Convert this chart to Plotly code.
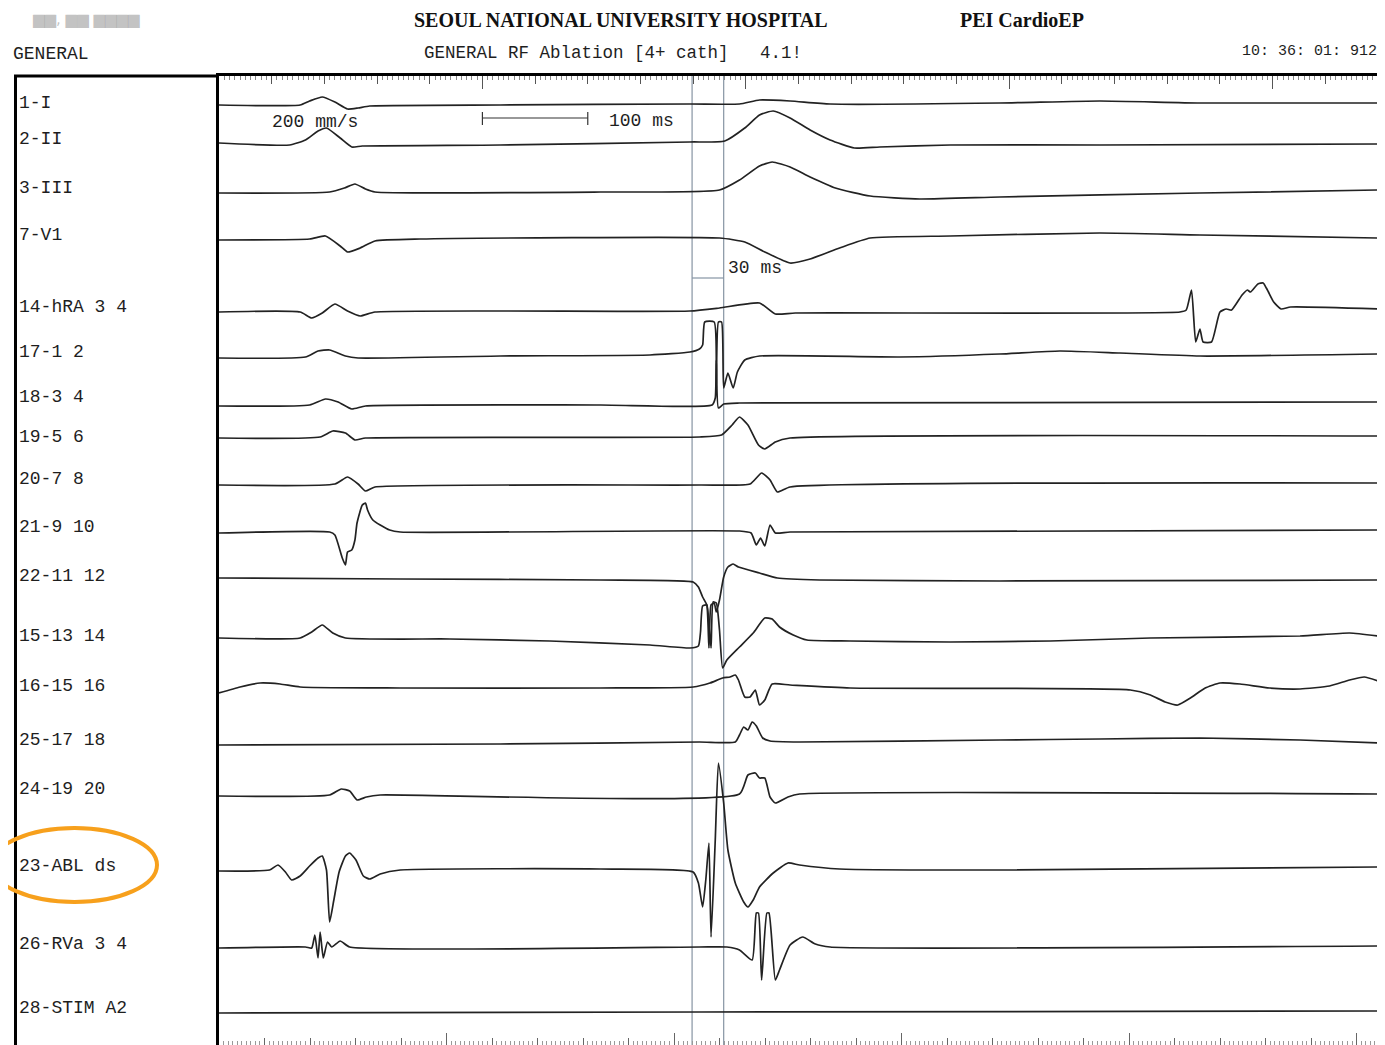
import plotly.graph_objects as go

# ---------------- canvas / layout constants ----------------
PAGE_OFF = 8                  # browser default body margin
W, H = 1385 - PAGE_OFF, 1045 - PAGE_OFF
ML, MR, MT, MB = 219 - PAGE_OFF, 7, 76 - PAGE_OFF, 0
PW = W - ML - MR
PH = H - MT - MB
T_MAX = 1100          # ms shown across the sweep
RULER_UNITS = 25.47   # units on the lower ruler

# ---------------- data (time in ms, amplitude in display units) ----------------
CHANNELS = ["1-I", "2-II", "3-III", "7-V1", "14-hRA 3 4", "17-1 2", "18-3 4",
            "19-5 6", "20-7 8", "21-9 10", "22-11 12", "15-13 14", "16-15 16",
            "25-17 18", "24-19 20", "23-ABL ds", "26-RVa 3 4", "28-STIM A2"]

I_t = [0, 77, 86, 98, 110, 122, 132, 143, 267, 447, 494, 513, 542, 580, 741, 836, 931, 1100]
I_a = [0, 0, 4, 8, 3, -4, -3, -1, 0, 1, 1, 5, 4, 1, 2, 4, 2, 2]

II_t = [0, 67, 82, 94, 102, 115, 126, 136, 267, 447, 480, 499, 513, 526, 542, 561, 580, 603, 627, 694, 836, 1100]
II_a = [2, 0, 5, 14, 17, 7, -2, -1, 0, 3, 4, 17, 30, 34, 27, 15, 5, -3, -2, 0, 0, 1]

III_t = [0, 105, 119, 129, 139, 148, 362, 475, 494, 513, 525, 542, 561, 585, 618, 665, 741, 931, 1100]
III_a = [-1, 0, 4, 8, 3, 0, 0, 2, 12, 26, 30, 25, 15, 4, -4, -7, -5, -1, 2]

V1_t = [0, 86, 101, 115, 122, 134, 148, 191, 475, 499, 518, 542, 561, 589, 618, 694, 836, 931, 1100]
V1_a = [0, 1, 4, -6, -12, -8, -1, 1, 2, -2, -12, -23, -19, -8, 2, 4, 7, 5, 2]

HRA_t = [0, 77, 88, 98, 110, 122, 134, 148, 447, 475, 513, 528, 547, 912, 918, 923, 927, 931,
         934, 942, 950, 956, 961, 971, 976, 979, 986, 991, 994, 996, 1001, 1008, 1017, 1100]
HRA_a = [-1, -1, -7, -2, 7, 0, -5, -1, 0, 3, 8, -3, -2, -1, 1, 21, -31, -18,
         -31, -31, -1, 2, 1, 16, 21, 19, 27, 28, 23, 19, 9, 2, 4, 2]

CS12_t = [0, 82, 94, 105, 120, 132, 267, 409, 447, 456, 459, 461, 470, 472, 474, 477, 479,
          483, 488, 492, 499, 513, 646, 741, 798, 855, 931, 1100]
CS12_a = [-1, 0, 6, 7, 1, -1, 1, 2, 5, 8, 12, 35, 35, -31, 35, 35, -31,
          -16, -31, -15, -3, 1, 0, 3, 6, 4, 1, 3]

CS34_t = [0, 86, 101, 113, 126, 139, 362, 468, 471, 472, 474, 479, 494, 1100]
CS34_a = [-1, 0, 6, 3, -4, -1, 0, 0, 7, 45, -3, 1, 2, 3]

CS56_t = [0, 96, 108, 120, 129, 139, 456, 477, 487, 494, 502, 512, 518, 528, 542, 1100]
CS56_a = [-1, 0, 6, 4, -3, -1, 0, 2, 12, 20, 12, -8, -12, -5, -1, 1]

CS78_t = [0, 110, 122, 132, 139, 148, 456, 504, 515, 523, 530, 542, 1100]
CS78_a = [0, 1, 8, 1, -6, -2, 0, 1, 12, 5, -7, -2, 2]

CS910_t = [0, 105, 110, 117, 120, 122, 126, 129, 131, 136, 139, 141, 146, 153, 162, 172,
           494, 505, 510, 514, 518, 523, 528, 542, 1100]
CS910_a = [-1, 0, -3, -26, -33, -20, -18, -8, 9, 27, 29, 22, 12, 7, 2, 0,
           1, -1, -13, -6, -14, 7, -1, 0, 2]

CS1112_t = [0, 172, 362, 450, 455, 459, 463, 465, 467, 470, 472, 475, 479, 483, 488, 493,
            513, 530, 570, 741, 1100]
CS1112_a = [2, 1, 0, -2, -7, -17, -25, -68, -25, -23, -32, -20, 3, 13, 16, 13,
            7, 2, 0, -1, 0]

CS1314_t = [0, 77, 88, 98, 108, 120, 219, 314, 409, 447, 455, 457, 459, 463, 465, 467, 469,
            472, 475, 478, 482, 494, 507, 518, 525, 532, 545, 558, 599, 694, 789, 884,
            1026, 1073, 1100]
CS1314_a = [-1, -1, 5, 12, 4, -1, -2, -4, -8, -11, -9, 5, 31, 32, 12, -11, 35,
            34, 7, -31, -23, -10, 4, 19, 18, 10, 2, -3, -4, -5, -4, -1,
            1, 4, 1]

CS1516_t = [0, 20, 39, 58, 77, 172, 362, 450, 466, 478, 485, 490, 493, 499, 504, 509, 513,
            518, 525, 542, 599, 865, 884, 898, 910, 922, 936, 950, 969, 997, 1026, 1054,
            1073, 1087, 1100]
CS1516_a = [-5, 1, 5, 4, 1, 0, 0, 1, 5, 10, 11, 13, 8, -9, -9, -2, -17,
            -12, 4, 3, 0, -2, -7, -14, -17, -10, 0, 5, 4, 0, -1, 2,
            8, 11, 7]

CS1718_t = [0, 267, 456, 490, 494, 498, 502, 506, 510, 516, 523, 551, 741, 836, 931, 1026, 1100]
CS1718_a = [-2, -1, 1, 1, 8, 16, 13, 21, 17, 5, 2, 1, 3, 4, 5, 3, 0]

CS1920_t = [0, 105, 116, 124, 131, 140, 153, 494, 502, 509, 513, 518, 523, 528, 540, 551, 1100]
CS1920_a = [-1, 0, 6, 4, -5, -2, 0, 1, 20, 22, 17, 17, -2, -8, -2, 1, 1]

ABL_t = [0, 48, 56, 63, 69, 77, 86, 94, 98, 102, 105, 109, 114, 120, 124, 130, 137, 143,
         153, 172, 362, 450, 455, 459, 462, 465, 467, 471, 474, 479, 483, 490, 498, 502,
         507, 513, 526, 540, 551, 589, 741, 1100]
ABL_a = [-1, 0, 5, -2, -10, -6, 4, 12, 14, 0, -52, -30, -2, 14, 17, 10, -6, -9,
         -4, 0, 1, -2, -13, -37, -10, 27, -67, 30, 107, 67, 20, -13, -32, -37,
         -30, -17, -3, 7, 5, 1, 0, 3]

RVA_t = [0, 82, 88, 91, 94, 96, 99, 103, 107, 115, 124, 456, 482, 494, 506, 510, 512, 515,
         520, 522, 528, 532, 542, 554, 566, 580, 1100]
RVA_a = [-1, 0, -1, 12, -11, 15, -11, 5, 0, 6, 0, 0, 0, -3, -13, 34, 34, -33,
         34, 34, -33, -23, 2, 10, 3, 0, 1]

STIM_t = [0, 456, 1100]
STIM_a = [-1, 0, 1]

SERIES = [(I_t, I_a), (II_t, II_a), (III_t, III_a), (V1_t, V1_a), (HRA_t, HRA_a),
          (CS12_t, CS12_a), (CS34_t, CS34_a), (CS56_t, CS56_a), (CS78_t, CS78_a),
          (CS910_t, CS910_a), (CS1112_t, CS1112_a), (CS1314_t, CS1314_a),
          (CS1516_t, CS1516_a), (CS1718_t, CS1718_a), (CS1920_t, CS1920_a),
          (ABL_t, ABL_a), (RVA_t, RVA_a), (STIM_t, STIM_a)]

CALIPER_MS = [449, 479]          # two cursor lines, 30 ms apart
SCALE_BAR_MS = [250, 350]        # 100 ms scale bar

# ---------------- layout positions (pixels from top of page) ----------------
ROW_BASE = [105, 145, 192, 240, 311, 357, 405, 437, 485, 532, 580, 637, 688,
            743, 795, 870, 947, 1012]
LABEL_Y = [103, 139, 188, 235, 307, 352, 397, 437, 479, 527, 576, 636, 686,
           740, 789, 866, 944, 1008]


def px(xp):
    # page pixel x -> paper fraction
    return (xp - PAGE_OFF - ML) / PW


def py(yp):
    # page pixel y -> paper fraction
    return (H + PAGE_OFF - MB - yp) / PH


MONO = "Liberation Mono, DejaVu Sans Mono, monospace"
SERIF = "Liberation Serif, DejaVu Serif, serif"
INK = "#1e1e1e"

fig = go.Figure()

for (t, a), base in zip(SERIES, ROW_BASE):
    fig.add_trace(go.Scatter(
        x=t, y=[v - base for v in a], mode="lines",
        line=dict(color="#222222", width=1.7, shape="spline", smoothing=0.5),
        showlegend=False, hoverinfo="skip"))

# scale bar
fig.add_trace(go.Scatter(x=SCALE_BAR_MS, y=[-118, -118], mode="lines",
                         line=dict(color="#333", width=1.2), showlegend=False, hoverinfo="skip"))
# dummy traces so the ruler axes exist
for ax in ["x2", "x3", "x4", "x5"]:
    fig.add_trace(go.Scatter(x=[None], y=[None], xaxis=ax, yaxis="y",
                             showlegend=False, hoverinfo="skip"))

shapes = []
for xm in SCALE_BAR_MS:
    shapes.append(dict(type="line", xref="x", yref="y", x0=xm, x1=xm, y0=-112, y1=-125,
                       line=dict(color="#333", width=1.2)))
for xm in CALIPER_MS:
    shapes.append(dict(type="line", xref="x", yref="paper", x0=xm, x1=xm, y0=0, y1=1,
                       line=dict(color="#8694a3", width=1.2), layer="below"))
shapes.append(dict(type="line", xref="x", yref="y", x0=CALIPER_MS[0], x1=CALIPER_MS[1],
                   y0=-278, y1=-278, line=dict(color="#8694a3", width=1.2)))
shapes.append(dict(type="line", xref="paper", yref="paper", x0=px(14), x1=px(219),
                   y0=1, y1=1, line=dict(color="black", width=3)))
shapes.append(dict(type="line", xref="paper", yref="paper", x0=px(15.5), x1=px(15.5),
                   y0=0, y1=1, line=dict(color="black", width=3)))
shapes.append(dict(type="circle", xref="paper", yref="paper", x0=px(-8), x1=px(157),
                   y0=py(902), y1=py(828), line=dict(color="#F7A01C", width=4)))

ann = []
for name, ly in zip(CHANNELS, LABEL_Y):
    ann.append(dict(text=name, xref="paper", yref="paper", x=px(17), y=py(ly),
                    xanchor="left", yanchor="middle", showarrow=False,
                    font=dict(family=MONO, size=18, color=INK)))

ann += [
    dict(text="200 mm/s", xref="x", yref="y", x=48, y=-122, xanchor="left", yanchor="middle",
         showarrow=False, font=dict(family=MONO, size=18, color=INK)),
    dict(text="100 ms", xref="x", yref="y", x=368, y=-121, xanchor="left", yanchor="middle",
         showarrow=False, font=dict(family=MONO, size=18, color=INK)),
    dict(text="30 ms", xref="x", yref="y", x=481, y=-268, xanchor="left", yanchor="middle",
         showarrow=False, font=dict(family=MONO, size=18, color=INK)),
    dict(text="<b>SEOUL NATIONAL UNIVERSITY HOSPITAL</b>", xref="paper", yref="paper",
         x=px(621), y=py(20), xanchor="center", yanchor="middle", showarrow=False,
         font=dict(family=SERIF, size=20, color="#111")),
    dict(text="<b>PEI CardioEP</b>", xref="paper", yref="paper", x=px(958), y=py(20),
         xanchor="left", yanchor="middle", showarrow=False,
         font=dict(family=SERIF, size=20, color="#111")),
    dict(text="▆▆, ▆▆ ▆▆▆▆", xref="paper", yref="paper", x=px(30), y=py(19),
         xanchor="left", yanchor="middle", showarrow=False,
         font=dict(family="DejaVu Sans", size=15, color="rgba(120,120,120,0.45)")),
    dict(text="GENERAL", xref="paper", yref="paper", x=px(11), y=py(54),
         xanchor="left", yanchor="middle", showarrow=False,
         font=dict(family=MONO, size=18, color=INK)),
    dict(text="GENERAL RF Ablation [4+ cath]   4.1!", xref="paper", yref="paper",
         x=px(422), y=py(53), xanchor="left", yanchor="middle", showarrow=False,
         font=dict(family=MONO, size=17.5, color=INK)),
    dict(text="10: 36: 01: 912", xref="paper", yref="paper", x=px(1379), y=py(52),
         xanchor="right", yanchor="middle", showarrow=False,
         font=dict(family=MONO, size=15, color=INK)),
]

axis_off = dict(showgrid=False, zeroline=False, showticklabels=False)

fig.update_layout(
    width=W, height=H,
    margin=dict(l=ML, r=MR, t=MT, b=MB, pad=0),
    paper_bgcolor="white", plot_bgcolor="white",
    showlegend=False,
    shapes=shapes, annotations=ann,
    xaxis=dict(range=[0, T_MAX], ticks="", showline=False, **axis_off),
    xaxis2=dict(range=[0, T_MAX], overlaying="x", anchor="y", side="top",
                showline=True, linewidth=3, linecolor="black",
                ticks="inside", tick0=0, dtick=50, ticklen=8, tickwidth=1, tickcolor="#555",
                minor=dict(ticks="inside", dtick=5, ticklen=4, tickwidth=1, tickcolor="#888"),
                **axis_off),
    xaxis3=dict(range=[0, T_MAX], overlaying="x", anchor="y", side="top",
                showline=False, ticks="inside", tick0=0, dtick=250, ticklen=13,
                tickwidth=1, tickcolor="#555", **axis_off),
    xaxis4=dict(range=[0, RULER_UNITS], overlaying="x", anchor="y", side="bottom",
                showline=False, ticks="inside", tick0=0, dtick=1, ticklen=7, tickwidth=1,
                tickcolor="#666",
                minor=dict(ticks="inside", dtick=0.1, ticklen=4, tickwidth=1, tickcolor="#999"),
                **axis_off),
    xaxis5=dict(range=[0, RULER_UNITS], overlaying="x", anchor="y", side="bottom",
                showline=False, ticks="inside", tick0=0, dtick=5, ticklen=12, tickwidth=1,
                tickcolor="#666", **axis_off),
    yaxis=dict(range=[-(H + PAGE_OFF - MB), -(MT + PAGE_OFF)], showline=True, linewidth=3,
               linecolor="black", mirror=True, ticks="", **axis_off),
)

fig.write_html("out.html")
